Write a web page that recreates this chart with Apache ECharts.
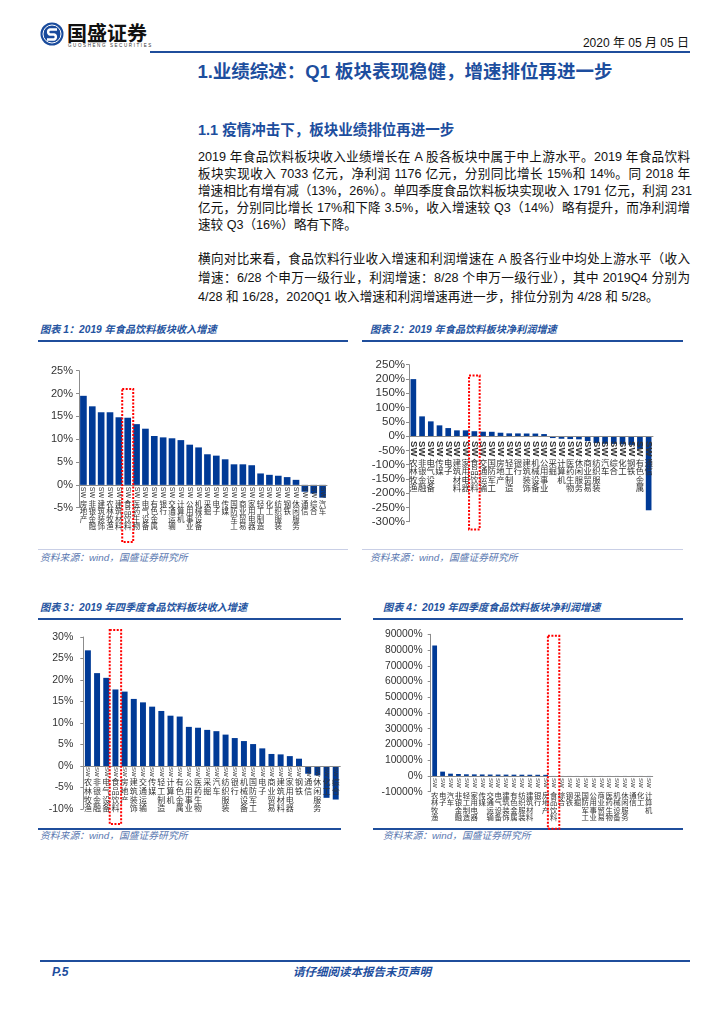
<!DOCTYPE html>
<html><head><meta charset="utf-8">
<script src="https://cdn.jsdelivr.net/npm/echarts/dist/echarts.min.js"></script>
<style>
html,body{margin:0;padding:0;background:#fff;}
body{width:724px;height:1024px;position:relative;overflow:hidden;font-family:"Liberation Sans","Noto Sans CJK SC",sans-serif;color:#111;}
.t{position:absolute;white-space:nowrap;}
.p{position:absolute;left:198px;width:492px;font-size:12.6px;line-height:17px;height:17px;white-space:nowrap;text-align:justify;text-align-last:justify;color:#111;}
.p.last{text-align-last:left;}
.cap{position:absolute;font-size:10.2px;line-height:12px;font-style:italic;font-weight:bold;color:#2453a0;white-space:nowrap;}
.src{position:absolute;font-size:9.8px;line-height:12px;font-style:italic;color:#5a78b0;white-space:nowrap;}
.ln{position:absolute;height:2px;background:#1f4e9c;}
#chart{position:absolute;left:0;top:0;width:724px;height:1024px;}
</style></head><body>

<svg class="t" style="left:40px;top:22px" width="24" height="24" viewBox="0 0 24 24">
 <circle cx="12" cy="12" r="11.5" fill="#1a4b9c"/>
 <circle cx="12" cy="12" r="9" fill="none" stroke="#fff" stroke-width="1"/>
 <path d="M17 7.5 H10 A2.6 2.6 0 0 0 10 12.5 H14 A2.6 2.6 0 0 1 14 17.5 H7" fill="none" stroke="#fff" stroke-width="2.4"/>
</svg>
<div class="t" style="left:67px;top:21px;font-size:20px;line-height:24px;font-weight:bold;color:#111;font-family:'Noto Sans CJK SC'">国盛证券</div>
<div class="t" style="left:68px;top:43px;font-size:4.5px;line-height:5px;letter-spacing:1.6px;color:#333">GUOSHENG SECURITIES</div>
<div class="t" style="right:35px;top:35px;font-size:12px;line-height:16px;color:#111">2020 年 05 月 05 日</div>
<div class="ln" style="left:150px;top:51px;width:540px;height:2px"></div>

<div class="t" style="left:0;width:810px;text-align:center;top:61px;font-size:18.5px;line-height:22px;font-weight:bold;color:#1d4e9e">1.业绩综述：Q1 板块表现稳健，增速排位再进一步</div>
<div class="t" style="left:198px;top:121px;font-size:14.5px;line-height:18px;font-weight:bold;color:#1d4e9e">1.1 疫情冲击下，板块业绩排位再进一步</div>

<div class="p" style="top:149px">2019 年食品饮料板块收入业绩增长在 A 股各板块中属于中上游水平。2019 年食品饮料</div>
<div class="p" style="top:166px">板块实现收入 7033 亿元，净利润 1176 亿元，分别同比增长 15%和 14%。同 2018 年</div>
<div class="p" style="top:183px">增速相比有增有减（13%，26%）。单四季度食品饮料板块实现收入 1791 亿元，利润 231</div>
<div class="p" style="top:200px">亿元，分别同比增长 17%和下降 3.5%，收入增速较 Q3（14%）略有提升，而净利润增</div>
<div class="p last" style="top:217px">速较 Q3（16%）略有下降。</div>

<div class="p" style="top:251px">横向对比来看，食品饮料行业收入增速和利润增速在 A 股各行业中均处上游水平（收入</div>
<div class="p" style="top:270px">增速：6/28 个申万一级行业，利润增速：8/28 个申万一级行业），其中 2019Q4 分别为</div>
<div class="p last" style="top:289px">4/28 和 16/28，2020Q1 收入增速和利润增速再进一步，排位分别为 4/28 和 5/28。</div>

<div class="cap" style="left:40px;top:324px">图表 1：2019 年食品饮料板块收入增速</div>
<div class="cap" style="left:370px;top:324px">图表 2：2019 年食品饮料板块净利润增速</div>
<div class="ln" style="left:38px;top:340px;width:310px"></div>
<div class="ln" style="left:362px;top:340px;width:321px"></div>
<div class="ln" style="left:38px;top:549px;width:310px;height:1px;background:#c9cfe6"></div>
<div class="ln" style="left:362px;top:549px;width:321px;height:1px;background:#c9cfe6"></div>
<div class="src" style="left:40px;top:552px">资料来源：wind，国盛证券研究所</div>
<div class="src" style="left:370px;top:552px">资料来源：wind，国盛证券研究所</div>

<div class="cap" style="left:40px;top:602px">图表 3：2019 年四季度食品饮料板块收入增速</div>
<div class="cap" style="left:383px;top:602px">图表 4：2019 年四季度食品饮料板块净利润增速</div>
<div class="ln" style="left:38px;top:618px;width:303px"></div>
<div class="ln" style="left:373px;top:618px;width:310px"></div>
<div class="ln" style="left:38px;top:828px;width:303px;height:1.5px"></div>
<div class="ln" style="left:373px;top:828px;width:310px;height:1.5px"></div>
<div class="src" style="left:40px;top:830px">资料来源：wind，国盛证券研究所</div>
<div class="src" style="left:383px;top:830px">资料来源：wind，国盛证券研究所</div>

<div class="ln" style="left:40px;top:960px;width:650px"></div>
<div class="t" style="left:52px;top:965px;font-size:12px;line-height:14px;font-weight:bold;font-style:italic;color:#1d4e9e">P.5</div>
<div class="t" style="left:0;width:724px;text-align:center;top:965px;font-size:11.5px;line-height:14px;font-weight:bold;font-style:italic;color:#1d4e9e">请仔细阅读本报告末页声明</div>

<div id="chart"></div>
<script>
// ---- data ----
const cat1 = ['房地产','非银金融','建筑装饰','农林牧渔','建筑材料','食品饮料','医药生物','电气设备','有色金属','银行','交通运输','计算机','公用事业','机械设备','采掘','电子','传媒','国防军工','商业贸易','家用电器','轻工制造','化工','纺织服装','钢铁','休闲服务','通信','综合','汽车'];
const val1 = [19.5,17.2,15.9,15.9,14.8,14.7,13.3,12.3,10.7,10.4,10.2,9.8,8.8,8.2,6.7,6.4,5.6,4.5,4.5,4.3,2.5,2.2,2.0,1.7,1.1,-1.5,-1.9,-2.8];
const ticks1 = [-5,0,5,10,15,20,25];

const cat2 = ['农林牧渔','非银金融','电气设备','传媒','电子','建筑材料','家用电器','食品饮料','交通运输','国防军工','房地产','轻工制造','银行','建筑装饰','机械设备','公用事业','采掘','计算机','医药生物','休闲服务','商业贸易','纺织服装','汽车','综合','化工','钢铁','有色金属','通信'];
const val2 = [199.5,69,51.5,37.5,28,20,20,17,15.3,15,11.7,9.5,9.3,9,8.8,7,-7,-9.5,-10.5,-11.5,-17.5,-24.5,-27,-27.5,-29,-31,-45,-260];
const ticks2 = [-300,-250,-200,-150,-100,-50,0,50,100,150,200,250];

const cat3 = ['农林牧渔','非银金融','电气设备','食品饮料','房地产','建筑装饰','交通运输','传媒','轻工制造','计算机','有色金属','公用事业','医药生物','采掘','汽车','纺织服装','银行','机械设备','国防军工','电子','商业贸易','建筑材料','家用电器','钢铁','通信','休闲服务','化工','综合'];
const val3 = [26.9,21.6,20.5,17.8,17.3,15.6,14.8,13.8,12.8,11.7,11.5,9.1,8.9,8.4,8.1,7.3,6.5,5.8,5.1,4.1,2.8,2.7,2.3,1.7,-1.8,-2.2,-7.4,-7.8];
const ticks3 = [-10,-5,0,5,10,15,20,25,30];

const cat4 = ['农林牧渔','电子','汽车','非银金融','轻工制造','家用电器','传媒','交通运输','电气设备','建筑装饰','有色金属','纺织服装','建筑材料','银行','房地产','食品饮料','综合','钢铁','采掘','国防军工','公用事业','商业贸易','医药生物','机械设备','休闲服务','通信','化工','计算机'];
const val4 = [82900,2750,1450,1250,1050,1000,950,900,880,850,820,800,780,750,700,-3.5,-150,-200,-250,-300,-350,-400,-450,-500,-550,-600,-650,-700];
const ticks4 = [-10000,0,10000,20000,30000,40000,50000,60000,70000,80000,90000];

const highlight = '食品饮料';

// ---- layout / style ----
const C = [
 {cats:cat1, vals:val1, ticks:ticks1, grid:{left:79,top:370.7,width:248,height:137}, yFont:11, yMargin:6,
  swFont:7, swBold:false, swMargin:2, cnFont:7.5, cnLH:7.6, cnMargin:15, gap:'25%', box:{w:11, top:21, bottom:-12.5}},
 {cats:cat2, vals:val2, ticks:ticks2, grid:{left:409,top:364.7,width:244,height:157}, yFont:11.5, yMargin:4,
  swFont:9.5, swBold:true, swMargin:5, cnFont:8.4, cnLH:8.6, cnMargin:22, gap:'35%', box:{w:10.6, top:212, bottom:-327}},
 {cats:cat3, vals:val3, ticks:ticks3, grid:{left:83.3,top:637,width:257,height:172}, yFont:10.5, yMargin:10,
  swFont:6, swBold:false, swMargin:1, cnFont:8, cnLH:8.6, cnMargin:12, gap:'35%', box:{w:11.4, top:31.6, bottom:-13.5}},
 {cats:cat4, vals:val4, ticks:ticks4, grid:{left:430.7,top:634.3,width:222,height:157.4}, yFont:10.3, yMargin:8,
  swFont:6, swBold:false, swMargin:2, cnFont:7.4, cnLH:7.6, cnMargin:15, gap:'40%', box:{w:11.4, top:89000, bottom:-33500}}
];

const chart = echarts.init(document.getElementById('chart'));
const grid=[], xAxis=[], yAxis=[], series=[];
C.forEach((c,i)=>{
  const t=c.ticks;
  const zeroDist = c.grid.height * (0 - t[0]) / (t[t.length-1] - t[0]);
  grid.push(Object.assign({containLabel:false}, c.grid));
  xAxis.push({type:'category', gridIndex:i, data:c.cats, position:'bottom', z:5, offset:-zeroDist,
    axisLine:{show:true, onZero:false, lineStyle:{color:'#8c8c8c', width:1}}, axisTick:{show:false},
    axisLabel:{interval:0, rotate:-90, margin:c.swMargin, formatter:()=> 'SW', fontSize:c.swFont,
      fontWeight:c.swBold?'bold':'normal', color:'#333', fontFamily:'Liberation Sans'}});
  xAxis.push({type:'category', gridIndex:i, data:c.cats, position:'bottom', z:5, offset:-zeroDist,
    axisLine:{show:false, onZero:false}, axisTick:{show:false},
    axisLabel:{interval:0, margin:c.cnMargin, formatter:s=>s.split('').join('\n'), fontSize:c.cnFont,
      lineHeight:c.cnLH, color:'#333', fontFamily:'Noto Sans CJK SC', verticalAlign:'top'}});
  yAxis.push({type:'value', gridIndex:i, min:t[0], max:t[t.length-1], interval:t[1]-t[0],
    axisLine:{show:true, lineStyle:{color:'#8c8c8c'}}, axisTick:{show:true, length:3, lineStyle:{color:'#8c8c8c'}},
    splitLine:{show:false},
    axisLabel:{formatter:v=>v+'%', fontSize:c.yFont, margin:c.yMargin, color:'#333', fontFamily:'Liberation Sans'}});
  series.push({type:'bar', xAxisIndex:2*i, yAxisIndex:i, data:c.vals, barCategoryGap:c.gap, barMinHeight:1,
    itemStyle:{color:'#003a96'}});
});
chart.setOption({animation:false, grid, xAxis, yAxis, series});

const graphic=[];
C.forEach((c,i)=>{
  const p1 = chart.convertToPixel({xAxisIndex:2*i, yAxisIndex:i}, [highlight, c.box.top]);
  const p2 = chart.convertToPixel({xAxisIndex:2*i, yAxisIndex:i}, [highlight, c.box.bottom]);
  graphic.push({type:'rect', z:100, shape:{x:p1[0]-c.box.w/2, y:p1[1], width:c.box.w, height:p2[1]-p1[1]},
    style:{fill:'none', stroke:'#ff0000', lineWidth:2, lineDash:[2,1.5]}});
});
chart.setOption({graphic});
</script>
</body></html>
